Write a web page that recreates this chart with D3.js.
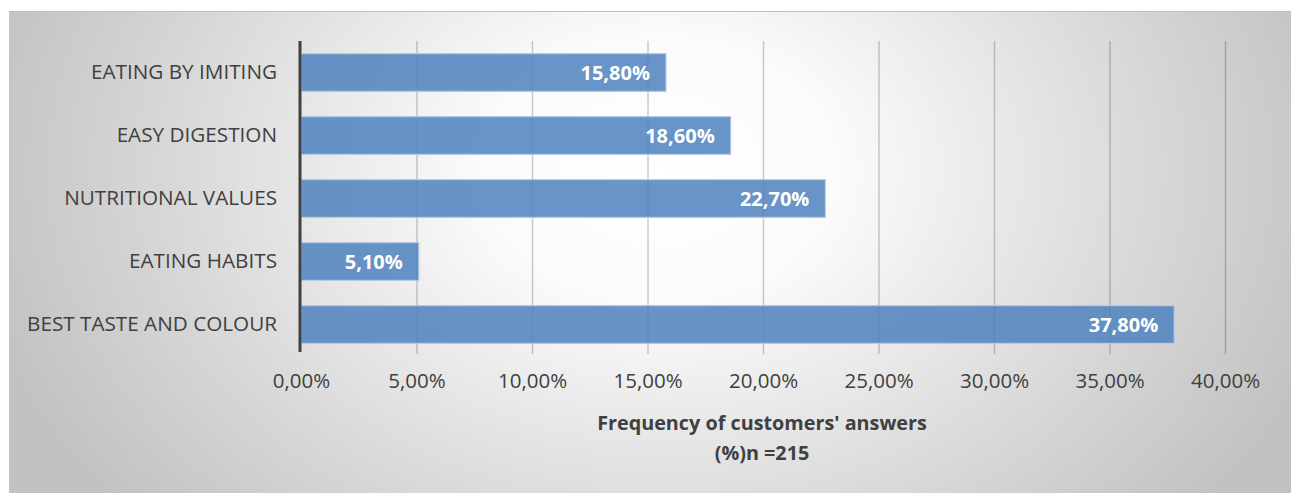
<!DOCTYPE html>
<html>
<head>
<meta charset="utf-8">
<script src="https://cdn.jsdelivr.net/npm/d3@7"></script>
<style>
  html, body { margin: 0; padding: 0; background: #ffffff; }
  svg { display: block; }
</style>
</head>
<body>
<svg id="chart" width="1295" height="493"></svg>
<script>
// Reasons for choosing the product, share of respondents (%)
const categories = ["EATING BY IMITING", "EASY DIGESTION", "NUTRITIONAL VALUES", "EATING HABITS", "BEST TASTE AND COLOUR"];
const values = [15.8, 18.6, 22.7, 5.1, 37.8];
const tickValues = [0, 5, 10, 15, 20, 25, 30, 35, 40];
const axisTitle = ["Frequency of customers' answers", "(%)n =215"];

const svg = d3.select("#chart");
const frame = { x: 9, y: 11, w: 1282, h: 482 };

// Panel background: soft radial light in the middle fading to grey at the sides
const defs = svg.append("defs");
const grad = defs.append("radialGradient")
  .attr("id", "bg")
  .attr("gradientUnits", "userSpaceOnUse")
  .attr("cx", 660).attr("cy", 170).attr("r", 700)
  .attr("gradientTransform", "translate(660,170) scale(1,0.75) translate(-660,-170)");
grad.append("stop").attr("offset", "0%").attr("stop-color", "#ffffff");
grad.append("stop").attr("offset", "25%").attr("stop-color", "#fbfbfb");
grad.append("stop").attr("offset", "70%").attr("stop-color", "#d8d8d8");
grad.append("stop").attr("offset", "100%").attr("stop-color", "#c2c2c2");

svg.append("rect")
  .attr("x", frame.x).attr("y", frame.y)
  .attr("width", frame.w).attr("height", frame.h)
  .attr("fill", "url(#bg)");
svg.append("line")
  .attr("x1", frame.x).attr("x2", frame.x + frame.w)
  .attr("y1", frame.y + 0.5).attr("y2", frame.y + 0.5)
  .attr("stroke", "#bdbdbd").attr("stroke-width", 1);

const plot = { left: 301, right: 1225, top: 41, bottom: 356 };

const x = d3.scaleLinear().domain([0, 40]).range([plot.left, plot.right]);
const y = d3.scaleBand().domain(categories).range([plot.top, plot.bottom]).paddingInner(0.4).paddingOuter(0.2);

const fontFamily = "'Open Sans', 'DejaVu Sans', sans-serif";

// Vertical gridlines
const grid = svg.append("g")
  .attr("transform", `translate(0,${plot.bottom - 2})`)
  .call(d3.axisBottom(x).tickValues(tickValues.filter(v => v > 0)).tickSize(-(plot.bottom - 2 - plot.top)).tickFormat(""));
grid.select(".domain").remove();
grid.selectAll(".tick line").attr("stroke", "rgba(0,0,0,0.2)").attr("stroke-width", 1.5);

// Bars
svg.append("g").selectAll("rect")
  .data(values)
  .join("rect")
  .attr("x", x(0))
  .attr("y", (d, i) => y(categories[i]))
  .attr("width", d => x(d) - x(0))
  .attr("height", y.bandwidth())
  .attr("fill", "#4f81bd")
  .attr("fill-opacity", 0.85)
  .attr("stroke", "#b4cbe6")
  .attr("stroke-width", 1.2);

// Value labels inside the bar ends
svg.append("g").selectAll("text")
  .data(values)
  .join("text")
  .attr("x", d => x(d) - 16)
  .attr("y", (d, i) => y(categories[i]) + y.bandwidth() / 2)
  .attr("dy", "0.36em")
  .attr("text-anchor", "end")
  .attr("fill", "#ffffff")
  .attr("font-family", fontFamily)
  .attr("font-weight", "bold")
  .attr("font-size", 20)
  .text(d => d3.format(".2f")(d).replace(".", ",") + "%");

// Category axis
const yAxis = svg.append("g")
  .attr("transform", `translate(${plot.left - 1},0)`)
  .call(d3.axisLeft(y).tickSize(0).tickPadding(23));
yAxis.select(".domain").remove();
yAxis.selectAll("text")
  .attr("fill", "#404040")
  .attr("font-family", fontFamily)
  .attr("font-size", 20.7);
svg.append("line")
  .attr("x1", plot.left - 1).attr("x2", plot.left - 1)
  .attr("y1", plot.top).attr("y2", plot.bottom - 4)
  .attr("stroke", "#404040").attr("stroke-width", 3);

// Value axis labels
const xAxis = svg.append("g")
  .attr("transform", `translate(0,${plot.bottom})`)
  .call(d3.axisBottom(x).tickValues(tickValues).tickSize(0).tickPadding(17)
    .tickFormat(d => d3.format(".2f")(d).replace(".", ",") + "%"));
xAxis.select(".domain").remove();
xAxis.selectAll("text")
  .attr("fill", "#404040")
  .attr("font-family", fontFamily)
  .attr("font-size", 20.5);

// Axis title
const title = svg.append("text")
  .attr("text-anchor", "middle")
  .attr("fill", "#404040")
  .attr("font-family", fontFamily)
  .attr("font-weight", "bold")
  .attr("font-size", 19.8);
title.selectAll("tspan")
  .data(axisTitle)
  .join("tspan")
  .attr("x", x(20) - 1)
  .attr("y", (d, i) => 430 + i * 30)
  .text(d => d);
</script>
</body>
</html>
